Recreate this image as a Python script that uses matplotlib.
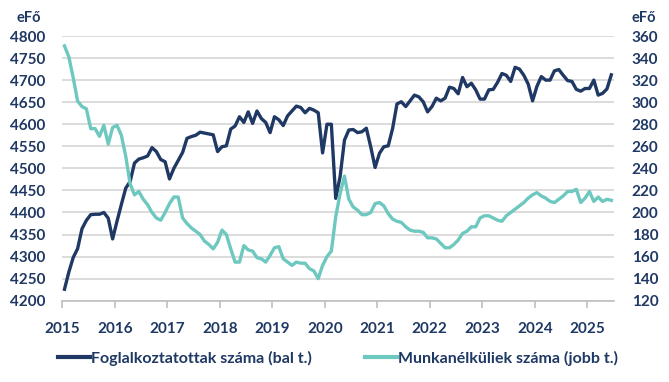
import matplotlib
matplotlib.use("Agg")
import matplotlib.pyplot as plt
import numpy as np

# ---- data (monthly, Jan 2015 - Jun 2025) ----
years = list(range(2015, 2026))
left_ticks = list(range(4200, 4801, 50))
right_ticks = list(range(120, 361, 20))

employed = [4226, 4265, 4298, 4318, 4363, 4382, 4395, 4396, 4396, 4400, 4387, 4340,
            4380, 4418, 4455, 4470, 4512, 4521, 4524, 4528, 4547, 4538, 4520, 4515,
            4476, 4500, 4518, 4536, 4568, 4572, 4575, 4582, 4580, 4578, 4576, 4538,
            4549, 4551, 4589, 4596, 4617, 4604, 4628, 4602, 4630, 4613, 4604, 4581,
            4617, 4610, 4597, 4619, 4630, 4641, 4638, 4626, 4636, 4632, 4626, 4535,
            4600, 4600, 4432, 4481, 4564, 4587, 4588, 4581, 4583, 4591, 4549, 4502,
            4534, 4549, 4551, 4590, 4646, 4651, 4640, 4653, 4666, 4662, 4651, 4628,
            4640, 4659, 4653, 4659, 4684, 4681, 4669, 4706, 4685, 4693, 4678, 4657,
            4657, 4678, 4679, 4695, 4715, 4711, 4697, 4729, 4725, 4711, 4691, 4653,
            4686, 4708, 4700, 4700, 4721, 4724, 4711, 4699, 4697, 4679, 4675, 4681,
            4681, 4700, 4666, 4670, 4680, 4712]

unemployed = [351, 341, 322, 301, 296, 294, 276, 276, 269, 279, 262, 277,
              279, 270, 251, 226, 216, 219, 212, 207, 200, 195, 193, 200,
              208, 214, 214, 195, 190, 186, 183, 180, 174, 171, 167, 173,
              184, 180, 167, 155, 155, 170, 166, 165, 159, 158, 155, 161,
              168, 169, 158, 155, 152, 155, 154, 154, 149, 147, 140, 152,
              160, 165, 196, 217, 233, 212, 205, 202, 198, 198, 200, 208,
              209, 206, 199, 194, 192, 191, 187, 184, 183, 183, 182, 177,
              177, 176, 172, 168, 168, 171, 175, 181, 183, 187, 187, 195,
              197, 197, 195, 193, 192, 197, 200, 203, 206, 209, 213, 216,
              218, 215, 213, 210, 209, 212, 215, 219, 219, 221, 209, 213,
              219, 210, 214, 210, 212, 211]

label_emp = "Foglalkoztatottak száma (bal t.)"
label_unemp = "Munkanélküliek száma (jobb t.)"
unit = "eFő"

# ---- style ----
navy = "#1F3864"
teal = "#6DC8C0"
grid_c = "#D9D9D9"
plt.rcParams["font.family"] = ["Lato", "DejaVu Sans"]

W, H = 669, 382
fig = plt.figure(figsize=(W / 100, H / 100), dpi=100)
x0, x1 = 62.3, 613.5
yt, yb = 36.0, 300.7
ax = fig.add_axes([x0 / W, (H - yb) / H, (x1 - x0) / W, (yb - yt) / H])
ax2 = ax.twinx()

n = len(employed)
xs = 2015 + (np.arange(n) + 0.5) / 12.0

ax.set_xlim(2015, 2015 + n / 12.0)
ax.set_ylim(4200, 4800)
ax2.set_ylim(120, 360)
ax.set_yticks(left_ticks)
ax2.set_yticks(right_ticks)
ax.set_xticks(years)
ax.set_xticklabels([str(y) for y in years])

ax.grid(axis="y", color=grid_c, linewidth=1.3)
ax.set_axisbelow(True)

l1, = ax.plot(xs, employed, color=navy, linewidth=2.4, solid_joinstyle="round", zorder=3)
l2, = ax2.plot(xs, unemployed, color=teal, linewidth=2.4, solid_joinstyle="round", zorder=3)

for a in (ax, ax2):
    for s in ("top", "left", "right", "bottom"):
        a.spines[s].set_visible(False)
ax.spines["bottom"].set_visible(True)
ax.spines["bottom"].set_color("#BFBFBF")
ax.spines["bottom"].set_linewidth(1.2)

ax.tick_params(axis="y", length=0, pad=12)
ax2.tick_params(axis="y", length=0, pad=13)
ax.tick_params(axis="x", length=5, width=1.2, color="#BFBFBF", pad=10)
for lab in ax.get_yticklabels() + ax2.get_yticklabels() + ax.get_xticklabels():
    lab.set_fontsize(11)
    lab.set_fontweight("bold")
    lab.set_color(navy)

fig.text(28.5 / W, 1 - 18 / H, unit, ha="center", va="center", fontsize=10.5,
         fontweight="bold", color=navy)
fig.text(631 / W, 1 - 18 / H, unit, ha="left", va="center", fontsize=10.5,
         fontweight="bold", color=navy)

leg = fig.legend([l1, l2], [label_emp, label_unemp], loc="center",
                 bbox_to_anchor=(338 / W, 1 - 358 / H), ncol=2, frameon=False,
                 handlelength=2.0, handletextpad=0.05, columnspacing=3.3,
                 prop=dict(size=11.5, weight="bold"))
for t in leg.get_texts():
    t.set_color(navy)
for h in leg.get_lines():
    h.set_linewidth(3)

fig.savefig("out.png", dpi=100)
